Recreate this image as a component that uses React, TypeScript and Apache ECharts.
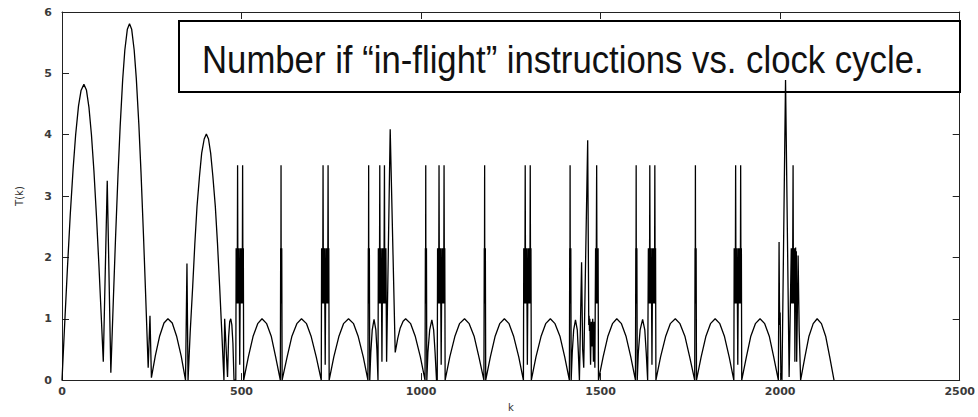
import React, { useEffect, useRef } from "react";
import * as echarts from "echarts";

const TITLE = "Number if \u201Cin-flight\u201D instructions vs. clock cycle.";
const X_NAME = "k";
const Y_NAME = "T(k)";
const X_TICKS = [0, 500, 1000, 1500, 2000, 2500];
const Y_TICKS = [0, 1, 2, 3, 4, 5, 6];

// T(k), k = 0 .. 506
const segA: [number, number][] = [
  [0, 0], [7, 0.86], [15, 1.81], [23, 2.7], [31, 3.45], [38, 4.0], [46, 4.47], [53, 4.72], [61, 4.82],
  [68, 4.73], [75, 4.45], [82, 4.0], [89, 3.4], [96, 2.67], [103, 1.85], [110, 0.95], [115, 0.3],
  [126, 3.25], [136, 0.12],
  [143, 1.31], [149, 2.3], [156, 3.35], [162, 4.14], [169, 4.9], [175, 5.38], [182, 5.72], [188, 5.81],
  [194, 5.72], [201, 5.38], [207, 4.91], [214, 4.17], [220, 3.39], [227, 2.35], [233, 1.38], [240, 0.2],
  [245, 1.05], [249, 0.04],
  [260, 0.4], [272, 0.72], [284, 0.93], [295, 1.0], [307, 0.93], [319, 0.72], [332, 0.39], [344, 0],
  [348, 1.9], [351, 0],
  [357, 0.78], [364, 1.53], [370, 2.23], [376, 2.83], [383, 3.33], [389, 3.7], [396, 3.93], [402, 4.01],
  [408, 3.93], [414, 3.7], [420, 3.33], [427, 2.83], [433, 2.23], [439, 1.53], [445, 0.78], [451, 0],
  [453, 1.0], [461, 0.05], [464, 0.7], [467, 0.95], [470, 1.0], [473, 0.9], [476, 0.6], [479, 0],
  [484, 0], [485, 2.15], [486, 1.25], [487, 2.15], [488, 1.25], [489, 3.5], [490, 1.25], [491, 2.15],
  [492, 1.25], [493, 2.15], [495, 0.25], [497, 2.15], [498, 1.25], [499, 2.15], [500, 1.25], [501, 2.15],
  [502, 1.25], [503, 3.5], [504, 1.25], [505, 2.15], [506, 0],
];

// k = 506 .. 1011
const segB: [number, number][] = [
  [519, 0.38], [532, 0.71], [545, 0.92], [557, 1.0], [570, 0.92], [583, 0.71], [595, 0.38], [608, 0],
  [609, 2.15], [609.5, 1.25], [610, 3.5], [610.5, 1.25], [611, 2.15], [611.5, 1.25], [612, 2.15], [613, 0],
  [627, 0.38], [640, 0.71], [654, 0.92], [667, 1.0], [681, 0.92], [694, 0.71], [708, 0.38], [722, 0],
  [723, 2.15], [724, 1.25], [725, 2.15], [726, 1.25], [727, 3.5], [728, 1.25], [729, 2.15], [730, 1.25],
  [731, 2.15], [733, 0.25], [735, 2.15], [736, 1.25], [737, 2.15], [738, 1.25], [739, 2.15], [740, 1.25],
  [741, 3.5], [742, 1.25], [743, 2.15], [744, 0],
  [757, 0.38], [771, 0.71], [784, 0.92], [798, 1.0], [812, 0.92], [825, 0.71], [839, 0.38], [852, 0],
  [853, 2.15], [853.5, 1.25], [854, 3.5], [854.5, 1.25], [855, 2.15], [855.5, 1.25], [856, 2.15], [857, 0],
  [860, 0.45], [864, 0.82], [869, 0.99], [874, 0.82], [877, 0.5], [880, 0],
  [881, 2.15], [882, 1.25], [883, 2.15], [884, 1.25], [885, 3.5], [886, 1.25], [887, 2.15], [888, 1.25],
  [889, 2.15], [891, 0.3], [893, 2.15], [894, 1.25], [895, 2.15], [896, 1.25], [897, 2.15], [898, 3.5],
  [899, 1.25], [900, 2.15], [901, 1.25], [902, 2.15], [904, 0.3], [914, 4.09], [928, 0.45],
  [935, 0.68], [942, 0.85], [950, 0.96], [957, 1.0], [971, 0.92], [984, 0.71], [998, 0.38], [1011, 0],
];

// k = 1011 .. 1494
const segC: [number, number][] = [
  [1012, 2.15], [1012.5, 1.25], [1013, 3.5], [1013.5, 1.25], [1014, 2.15], [1014.5, 1.25], [1015, 2.15], [1016, 0],
  [1019, 0.45], [1024, 0.82], [1030, 0.98], [1035, 0.82], [1039, 0.45], [1043, 0],
  [1045, 0], [1046, 2.15], [1047, 1.25], [1048, 2.15], [1049, 1.25], [1050, 3.5], [1051, 1.25], [1052, 2.15],
  [1053, 1.25], [1054, 2.15], [1056, 0.25], [1058, 2.15], [1059, 1.25], [1060, 2.15], [1061, 1.25], [1062, 2.15],
  [1063, 1.25], [1064, 3.5], [1065, 1.25], [1066, 2.15], [1067, 0],
  [1080, 0.38], [1094, 0.71], [1107, 0.92], [1121, 1.0], [1134, 0.92], [1148, 0.71], [1161, 0.38], [1175, 0],
  [1176, 2.15], [1176.5, 1.25], [1177, 3.5], [1177.5, 1.25], [1178, 2.15], [1178.5, 1.25], [1179, 2.15], [1180, 0],
  [1193, 0.38], [1206, 0.71], [1219, 0.92], [1232, 1.0], [1245, 0.92], [1258, 0.71], [1272, 0.38], [1285, 0],
  [1286, 2.15], [1287, 1.25], [1288, 2.15], [1289, 1.25], [1290, 3.5], [1291, 1.25], [1292, 2.15], [1293, 1.25],
  [1294, 2.15], [1296, 0.25], [1298, 2.15], [1299, 1.25], [1300, 2.15], [1301, 1.25], [1302, 2.15], [1303, 1.25],
  [1304, 3.5], [1305, 1.25], [1306, 2.15], [1307, 0],
  [1320, 0.38], [1334, 0.71], [1347, 0.92], [1360, 1.0], [1373, 0.92], [1387, 0.71], [1400, 0.38], [1413, 0],
  [1414, 2.15], [1414.5, 1.25], [1415, 3.5], [1415.5, 1.25], [1416, 2.15], [1416.5, 1.25], [1417, 2.15], [1418, 0],
  [1421, 0.45], [1425, 0.82], [1430, 0.98], [1435, 0.82], [1438, 0.45], [1441, 0],
  [1447, 1.92], [1450, 0.5], [1453, 0.2], [1464, 3.91], [1467, 0.9], [1468, 1.05], [1469, 0.8], [1470, 1.0],
  [1472, 0.25], [1474, 0.95], [1476, 0.55], [1478, 1.0], [1480, 0.3], [1482, 0.95], [1484, 0.2],
  [1486, 2.15], [1487, 1.25], [1488, 2.15], [1489, 3.5], [1490, 1.25], [1491, 2.15], [1492, 1.25], [1493, 2.15], [1494, 0],
];

// k = 1494 .. 2150
const segD: [number, number][] = [
  [1507, 0.38], [1520, 0.71], [1533, 0.92], [1545, 1.0], [1558, 0.92], [1571, 0.71], [1584, 0.38], [1597, 0],
  [1598, 2.15], [1598.5, 1.25], [1599, 3.5], [1599.5, 1.25], [1600, 2.15], [1600.5, 1.25], [1601, 2.15], [1602, 0],
  [1605, 0.45], [1610, 0.82], [1617, 0.99], [1623, 0.82], [1627, 0.45], [1631, 0],
  [1632, 0], [1633, 2.15], [1634, 1.25], [1635, 2.15], [1636, 1.25], [1637, 3.5], [1638, 1.25], [1639, 2.15],
  [1640, 1.25], [1641, 2.15], [1643, 0.25], [1645, 2.15], [1646, 1.25], [1647, 2.15], [1648, 1.25], [1649, 2.15],
  [1650, 1.25], [1651, 3.5], [1652, 1.25], [1653, 2.15], [1654, 0],
  [1667, 0.38], [1681, 0.71], [1694, 0.92], [1708, 1.0], [1721, 0.92], [1735, 0.71], [1748, 0.38], [1762, 0],
  [1763, 2.15], [1763.5, 1.25], [1764, 3.5], [1764.5, 1.25], [1765, 2.15], [1765.5, 1.25], [1766, 2.15], [1767, 0],
  [1780, 0.38], [1793, 0.71], [1806, 0.92], [1819, 1.0], [1832, 0.92], [1845, 0.71], [1858, 0.38], [1871, 0],
  [1872, 2.15], [1873, 1.25], [1874, 2.15], [1875, 1.25], [1876, 3.5], [1877, 1.25], [1878, 2.15], [1879, 1.25],
  [1880, 2.15], [1882, 0.25], [1884, 2.15], [1885, 1.25], [1886, 2.15], [1887, 1.25], [1888, 2.15], [1889, 1.25],
  [1890, 3.5], [1891, 1.25], [1892, 2.15], [1893, 0],
  [1906, 0.38], [1918, 0.71], [1931, 0.92], [1944, 1.0], [1957, 0.92], [1970, 0.71], [1982, 0.38], [1995, 0],
  [1997, 2.25], [1998, 1.3], [1999, 0.9], [2000, 1.1], [2002, 0.1], [2005, 0], [2015, 4.89], [2025, 0.05],
  [2031, 2.15], [2032, 1.25], [2033, 2.15], [2034, 1.25], [2035, 2.15], [2036, 3.5], [2037, 1.25], [2038, 2.15],
  [2039, 1.25], [2040, 2.15], [2041, 0.3], [2043, 2.16], [2044, 1.25], [2045, 2.1], [2046, 0.3], [2050, 2.03],
  [2053, 0.8], [2057, 0],
  [2069, 0.38], [2080, 0.71], [2092, 0.92], [2103, 1.0], [2115, 0.92], [2127, 0.71], [2138, 0.38], [2150, 0],
];

const W = 978;
const H = 417;
const TITLE_FONT_FAMILY = '"Liberation Sans Narrow", "Arial Narrow", "Liberation Sans", Arial, sans-serif';
const TITLE_FONT_SIZE = 38;
const TITLE_TARGET_WIDTH = 722;

export default function App() {
  const ref = useRef<HTMLDivElement>(null);

  useEffect(() => {
    document.body.style.margin = "0";
    if (!ref.current) return;
    const chart = echarts.init(ref.current, undefined, { renderer: "svg", width: W, height: H });

    let scaleX = 1;
    try {
      const c = document.createElement("canvas");
      const ctx = c.getContext("2d");
      if (ctx) {
        ctx.font = `${TITLE_FONT_SIZE}px ${TITLE_FONT_FAMILY}`;
        const w = ctx.measureText(TITLE).width;
        if (w > 0) scaleX = TITLE_TARGET_WIDTH / w;
      }
    } catch (e) {
      scaleX = 1;
    }

    const data = [...segA, ...segB, ...segC, ...segD];
    const axisColor = "#222";
    const labelStyle = {
      fontFamily: '"DejaVu Sans", Verdana, sans-serif',
      fontWeight: "bold" as const,
      fontSize: 11,
      color: "#3a3a3a",
      formatter: (v: number) => String(v),
    };
    const xMin = X_TICKS[0];
    const xMax = X_TICKS[X_TICKS.length - 1];
    const xInt = X_TICKS[1] - X_TICKS[0];
    const yMin = Y_TICKS[0];
    const yMax = Y_TICKS[Y_TICKS.length - 1];
    const yInt = Y_TICKS[1] - Y_TICKS[0];

    const tick = { show: true, inside: true, length: 7, lineStyle: { color: axisColor, width: 1 } };
    const line = { show: true, onZero: false, lineStyle: { color: axisColor, width: 1 } };

    chart.setOption({
      animation: false,
      backgroundColor: "#fff",
      grid: { left: 62, right: 17, top: 12, bottom: 28, containLabel: false },
      xAxis: [
        {
          type: "value", min: xMin, max: xMax, interval: xInt, position: "bottom",
          name: X_NAME, nameLocation: "middle", nameGap: 17,
          nameTextStyle: { fontFamily: '"DejaVu Sans", sans-serif', fontSize: 10, color: "#333" },
          axisLine: line, axisTick: tick,
          axisLabel: { ...labelStyle, margin: 6 },
          splitLine: { show: false },
        },
        {
          type: "value", min: xMin, max: xMax, interval: xInt, position: "top",
          axisLine: line, axisTick: tick, axisLabel: { show: false }, splitLine: { show: false },
        },
      ],
      yAxis: [
        {
          type: "value", min: yMin, max: yMax, interval: yInt, position: "left",
          name: Y_NAME, nameLocation: "middle", nameGap: 38, nameRotate: 90,
          nameTextStyle: { fontFamily: '"DejaVu Sans", sans-serif', fontSize: 10, color: "#333" },
          axisLine: line, axisTick: tick,
          axisLabel: { ...labelStyle, margin: 10 },
          splitLine: { show: false },
        },
        {
          type: "value", min: yMin, max: yMax, interval: yInt, position: "right",
          axisLine: line, axisTick: tick, axisLabel: { show: false }, splitLine: { show: false },
        },
      ],
      series: [
        {
          type: "line",
          xAxisIndex: 0,
          yAxisIndex: 0,
          data,
          showSymbol: false,
          symbol: "none",
          silent: true,
          clip: true,
          z: 3,
          lineStyle: { color: "#000", width: 1.3 },
        },
      ],
      graphic: [
        {
          type: "rect",
          z: 1,
          shape: { x: 179, y: 21, width: 781, height: 71 },
          style: { fill: "#fff", stroke: "#000", lineWidth: 2 },
        },
        {
          type: "text",
          z: 2,
          x: 202,
          y: 59.7,
          scaleX,
          style: {
            text: TITLE,
            fontFamily: TITLE_FONT_FAMILY,
            fontSize: TITLE_FONT_SIZE,
            fill: "#111",
            align: "left",
            verticalAlign: "middle",
          },
        },
      ],
    });

    return () => chart.dispose();
  }, []);

  return (
    <div
      ref={ref}
      style={{ position: "fixed", left: 0, top: 0, width: W, height: H, background: "#fff" }}
    />
  );
}
